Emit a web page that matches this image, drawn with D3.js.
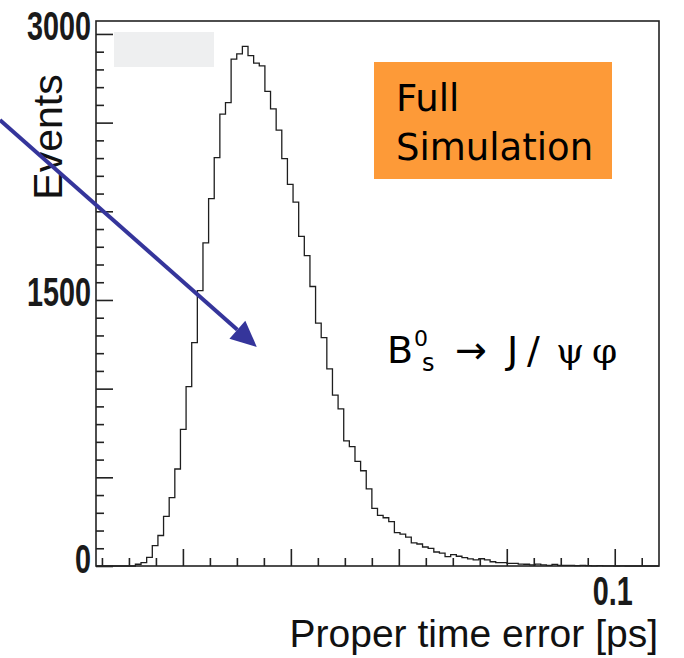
<!DOCTYPE html>
<html>
<head>
<meta charset="utf-8">
<script src="https://cdn.jsdelivr.net/npm/d3@7/dist/d3.min.js"></script>
<style>
  body { margin: 0; background: #fff; }
  svg { display: block; }
</style>
</head>
<body>
<svg id="chart" width="684" height="658"></svg>
<script>
// histogram: 100 bins over the whole axis range
const xRange = [0.0039, 0.1082];
const counts = [
  0, 0, 0, 0, 0, 0, 0, 10, 19, 49,
  115, 172, 280, 386, 547, 770, 1011, 1260, 1553, 1822,
  2072, 2303, 2548, 2613, 2858, 2888, 2930, 2878, 2835, 2820,
  2676, 2577, 2458, 2297, 2152, 2052, 1859, 1750, 1576, 1369,
  1288, 1112, 963, 886, 706, 673, 590, 537, 435, 325,
  285, 272, 250, 188, 180, 163, 130, 124, 107, 99,
  79, 73, 53, 64, 55, 47, 40, 34, 41, 34,
  24, 19, 19, 15, 15, 11, 10, 6, 11, 6,
  4, 9, 4, 4, 3, 2, 3, 2, 1, 2,
  1, 1, 0, 1, 0, 0, 0, 0, 0, 0
];
const yMax = 3073;
const yLabels = [0, 1500, 3000];
const xLabels = [0.1];
const xTitle = "Proper time error [ps]";
const yTitle = "Events";
const boxLines = ["Full", "Simulation"];
// arrow from outside the frame down to the curve (data coords)
const arrowFrom = [-0.0139, 2515];
const arrowTo = [0.0337, 1235];

const svg = d3.select("#chart");
const fl = 96, fr = 659, ft = 21, fb = 566;

const x = d3.scaleLinear().domain(xRange).range([fl, fr]);
const y = d3.scaleLinear().domain([0, yMax]).range([fb, ft]);

const sans = "'Liberation Sans', Arial, sans-serif";
const comic = "'Comic Sans MS', 'DejaVu Sans', sans-serif";

// grey stats-box remnant
svg.append("rect")
  .attr("x", 114).attr("y", 32).attr("width", 100).attr("height", 35)
  .attr("fill", "#eeeff0");

// histogram outline
const binW = (xRange[1] - xRange[0]) / counts.length;
const pts = counts.map((c, i) => [xRange[0] + i * binW, c]);
pts.push([xRange[1], counts[counts.length - 1]]);
svg.append("path")
  .datum(pts)
  .attr("fill", "none")
  .attr("stroke", "#1e1e1e")
  .attr("stroke-width", 1.3)
  .attr("d", d3.line().x(d => x(d[0])).y(d => y(d[1])).curve(d3.curveStepAfter));

// frame
svg.append("rect")
  .attr("x", fl).attr("y", ft)
  .attr("width", fr - fl).attr("height", fb - ft)
  .attr("fill", "none").attr("stroke", "#222").attr("stroke-width", 1.6);

// y axis ticks (inside)
const yAxis = d3.axisRight(y)
  .tickValues(d3.range(0, 3001, 100))
  .tickSize(8)
  .tickFormat("");
const gy = svg.append("g").attr("transform", `translate(${fl},0)`).call(yAxis);
gy.select(".domain").remove();
gy.selectAll(".tick line")
  .attr("x2", d => d % 500 === 0 ? 17 : 8)
  .attr("stroke", "#222").attr("stroke-width", 1.6);

// condensed bold labels (squeezed horizontally)
svg.selectAll(".ylab")
  .data(yLabels)
  .join("text")
  .attr("class", "ylab")
  .attr("transform", d => `translate(91,${y(d) + 6.5}) scale(0.72,1)`)
  .attr("text-anchor", "end")
  .attr("font-family", sans)
  .attr("font-weight", "bold")
  .attr("font-size", 40)
  .attr("fill", "#1a1a1a")
  .text(d => d);

// x axis ticks (inside)
const xAxis = d3.axisTop(x)
  .tickValues(d3.range(1, 22).map(i => i * 0.005))
  .tickSize(8)
  .tickFormat("");
const gx = svg.append("g").attr("transform", `translate(0,${fb})`).call(xAxis);
gx.select(".domain").remove();
gx.selectAll(".tick line")
  .attr("y2", d => Math.round(d * 1000) % 20 === 0 ? -17 : -8)
  .attr("stroke", "#222").attr("stroke-width", 1.6);

svg.selectAll(".xlab")
  .data(xLabels)
  .join("text")
  .attr("class", "xlab")
  .attr("transform", d => `translate(${x(d) - 2},605) scale(0.72,1)`)
  .attr("text-anchor", "middle")
  .attr("font-family", sans)
  .attr("font-weight", "bold")
  .attr("font-size", 40)
  .attr("fill", "#1a1a1a")
  .text(d => d);

// axis titles
svg.append("text")
  .attr("x", 658).attr("y", 647)
  .attr("text-anchor", "end")
  .attr("font-family", sans)
  .attr("font-size", 39)
  .attr("fill", "#111")
  .text(xTitle);

svg.append("text")
  .attr("transform", "translate(62,137) rotate(-90)")
  .attr("text-anchor", "middle")
  .attr("font-family", sans)
  .attr("font-size", 41)
  .attr("fill", "#111")
  .text(yTitle);

// orange label box
svg.append("rect")
  .attr("x", 374).attr("y", 62).attr("width", 238).attr("height", 117)
  .attr("fill", "#fd9a38");
svg.selectAll(".boxtxt")
  .data(boxLines)
  .join("text")
  .attr("class", "boxtxt")
  .attr("x", 396)
  .attr("y", (d, i) => 111 + i * 49)
  .attr("font-family", comic)
  .attr("font-size", 37)
  .attr("fill", "#000")
  .text(d => d);

// decay formula
const f = svg.append("g").attr("font-family", comic).attr("fill", "#000");
f.append("text").attr("x", 387).attr("y", 363).attr("font-size", 38).text("B");
f.append("text").attr("x", 414).attr("y", 346).attr("font-size", 22).text("0");
f.append("text").attr("x", 422).attr("y", 371).attr("font-size", 24).text("s");
f.append("text").attr("x", 455).attr("y", 363).attr("font-size", 38).text("→");
f.append("text").attr("x", 507).attr("y", 363).attr("font-size", 38).text("J");
f.append("text").attr("x", 527).attr("y", 363).attr("font-size", 38).text("/");
f.append("text").attr("x", 556).attr("y", 363).attr("font-size", 36)
  .attr("font-family", "'DejaVu Serif', serif").text("ψ");
f.append("text").attr("x", 592).attr("y", 363).attr("font-size", 36)
  .attr("font-family", "'DejaVu Serif', serif").text("φ");

// blue arrow
const ax0 = x(arrowFrom[0]), ay0 = y(arrowFrom[1]);
const ax1 = x(arrowTo[0]), ay1 = y(arrowTo[1]);
const ang = Math.atan2(ay1 - ay0, ax1 - ax0);
const headL = 26, headW = 12;
const bx = ax1 - headL * Math.cos(ang), by = ay1 - headL * Math.sin(ang);
svg.append("line")
  .attr("x1", ax0).attr("y1", ay0).attr("x2", bx).attr("y2", by)
  .attr("stroke", "#35359b").attr("stroke-width", 4);
svg.append("path")
  .attr("d", `M${ax1},${ay1}` +
    `L${bx + headW * Math.sin(ang)},${by - headW * Math.cos(ang)}` +
    `L${bx - headW * Math.sin(ang)},${by + headW * Math.cos(ang)}Z`)
  .attr("fill", "#35359b");
</script>
</body>
</html>
